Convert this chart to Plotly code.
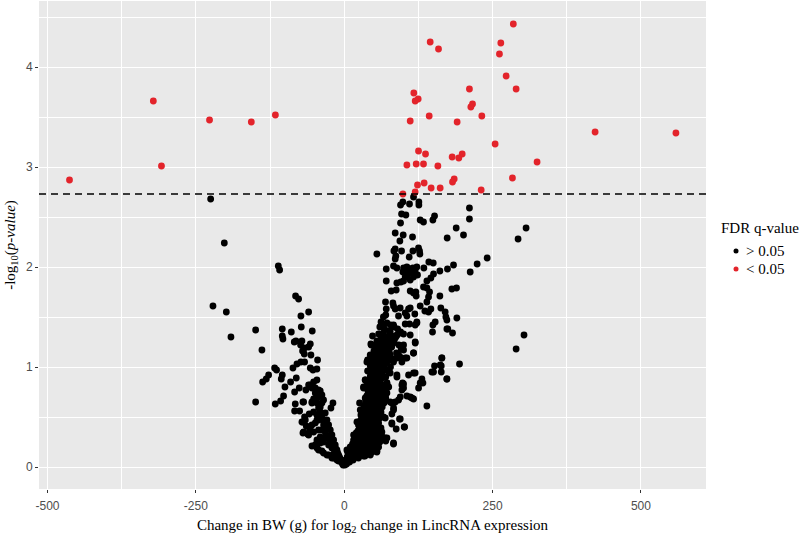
import plotly.graph_objects as go

FDR_LINE = 2.73

# significant lincRNAs (change in BW, -log10 p)
red_points = [
    (285, 4.43), (144.9, 4.25), (158.9, 4.18), (263.9, 4.24), (261.6, 4.13), (272.9, 3.91),
    (289.7, 3.78), (211, 3.78), (117.3, 3.74), (124.6, 3.68), (119.6, 3.66), (216.2, 3.63),
    (213.4, 3.6), (143.2, 3.51), (231.9, 3.51), (111.2, 3.46), (190.3, 3.45), (254.3, 3.23),
    (125.2, 3.16), (137, 3.13), (198.8, 3.13), (181.9, 3.1), (193.1, 3.09), (105.6, 3.02),
    (121.3, 3.03), (133.6, 3.03), (157.8, 3.01), (325, 3.05), (283.5, 2.89), (185.3, 2.88),
    (182.5, 2.85), (134.7, 2.84), (123.5, 2.82), (146.5, 2.79), (161.7, 2.79), (230.8, 2.77),
    (119.6, 2.75), (98.9, 2.73), (-463, 2.87), (-321.7, 3.66), (-308, 3.01), (-227, 3.47),
    (-156.6, 3.45), (-116, 3.52), (422.8, 3.35), (559, 3.34),
]

# negative side
black_left = [
    (-225.1, 2.68), (-202.1, 2.24), (-111.1, 2.01), (-108.9, 1.97), (-82, 1.71), (-76.9, 1.68),
    (-60, 1.55), (-73, 1.51), (-221.2, 1.61), (-198.7, 1.55), (-190.9, 1.3), (-149.3, 1.37),
    (-138.7, 1.17), (-149.3, 0.65), (-104.4, 1.38), (-89.2, 1.35), (-72.4, 1.4), (-53.9, 1.36),
    (-104.4, 1.31), (-103.3, 1.28), (-84.2, 1.25), (-81.4, 1.26), (-71.3, 1.26), (-73.5, 1.22),
    (-57.2, 1.23), (-60, 1.2), (-66.8, 1.19), (-70.2, 1.16), (-67.3, 1.13), (-56.1, 1.12),
    (-44.9, 1.07), (-117.3, 0.99), (-114, 0.97), (-86.4, 0.99), (-79.7, 1.03), (-73, 1.05),
    (-66.8, 1.05), (-57.2, 0.99), (-52.7, 0.97), (-46, 0.98), (-127.4, 0.92), (-131.4, 0.88),
    (-137.5, 0.85), (-104.4, 0.92), (-106.1, 0.88), (-80.8, 0.89), (-90.4, 0.85), (-99.9, 0.8),
    (-75.8, 0.79), (-64.6, 0.77), (-83.6, 0.75), (-102.2, 0.71), (-107.2, 0.66), (-116.2, 0.63),
    (-82.5, 0.63), (-69.6, 0.65), (-83.6, 0.56), (-75.2, 0.56), (-57.2, 0.82), (-51.6, 0.85),
    (-46, 0.87), (-48.8, 0.79), (-43.2, 0.77), (-54.4, 0.65), (-46, 0.69), (-69.6, 0.45),
    (-66.8, 0.5), (-59, 0.53), (-51.6, 0.55), (-46, 0.52), (-64, 0.41), (-57.2, 0.4),
    (-48.8, 0.44), (-43.2, 0.47), (-69.6, 0.34), (-61.7, 0.33), (-51.6, 0.35), (-54.4, 0.21),
    (-46, 0.24), (-46, 0.19), (-40.4, 0.76), (-37.6, 0.72), (-34.8, 0.67), (-19, 0.64),
    (-22.4, 0.59), (-32, 0.54), (-29.1, 0.47), (-26.3, 0.42), (-23.5, 0.37), (-20.7, 0.32),
    (-17.9, 0.27), (-15.1, 0.22), (-12.3, 0.17), (-9.5, 0.12), (-6.7, 0.08), (-3.9, 0.04),
    (-40.4, 0.55), (-37.6, 0.49), (-34.8, 0.42), (-32, 0.35), (-29.1, 0.29), (-24.7, 0.24),
    (-20.7, 0.19), (-16.8, 0.14), (-13.4, 0.1), (-9.5, 0.06), (-48.8, 0.22), (-43.2, 0.17),
    (-34.8, 0.14), (-26.3, 0.12), (-17.9, 0.09), (-46, 0.27), (-40.4, 0.3), (-43.2, 0.37),
    (-68.4, 0.35), (-58.3, 0.37), (-54.4, 0.42), (-65.6, 0.47), (-71.3, 0.45),
    (-46, 0.47), (-34.8, 0.25), (-43.2, 0.59), (-51.6, 0.68), (-54.4, 0.64),
    (-68.4, 0.65), (-40.4, 0.6), (-46, 0.64), (-37.6, 0.64), (-60, 0.82), (-54.4, 0.79),
    (-48.8, 0.74), (-43.2, 0.7), (-2, 0.02), (-5, 0.07), (-8, 0.1), (-11, 0.14), (-14, 0.18),
    (-18, 0.2), (-22, 0.26), (-26, 0.31), (-30, 0.39), (-35, 0.46), (-39, 0.52),
    (-60, 0.32), (-40.4, 0.24), (-37.6, 0.16), (-29.1, 0.12), (-20.7, 0.09), (-12.3, 0.07),
    (-32, 0.3), (-26.3, 0.22), (-37.6, 0.37),
]

# dense stem of the V on the positive side
black_stem = [
    (1, 0.02), (2, 0.04), (4, 0.03), (3, 0.07), (6, 0.06), (9, 0.05), (5, 0.1), (8, 0.09),
    (12, 0.08), (15, 0.07), (7, 0.13), (11, 0.12), (15, 0.11), (19, 0.1), (24, 0.09), (9, 0.16),
    (13, 0.15), (18, 0.14), (23, 0.13), (28, 0.12), (35, 0.11), (11, 0.19), (16, 0.18), (21, 0.17),
    (27, 0.16), (33, 0.15), (40, 0.14), (47, 0.15), (14, 0.23), (19, 0.22), (24, 0.21), (30, 0.2),
    (36, 0.19), (43, 0.18), (50, 0.19), (58, 0.2), (17, 0.27), (22, 0.26), (27, 0.25), (33, 0.24),
    (39, 0.23), (46, 0.22), (53, 0.24), (60, 0.25), (70, 0.26), (20, 0.31), (25, 0.3), (31, 0.29),
    (37, 0.28), (43, 0.27), (50, 0.28), (57, 0.29), (64, 0.3), (23, 0.36), (28, 0.35), (34, 0.34),
    (40, 0.33), (46, 0.32), (52, 0.33), (59, 0.34), (25, 0.41), (31, 0.4), (37, 0.39), (43, 0.38),
    (49, 0.37), (55, 0.38), (62, 0.39), (27, 0.46), (33, 0.45), (39, 0.44), (45, 0.43), (51, 0.42),
    (58, 0.44), (29, 0.51), (35, 0.5), (41, 0.49), (47, 0.48), (53, 0.47), (60, 0.49), (66, 0.5),
    (31, 0.56), (37, 0.55), (43, 0.54), (49, 0.53), (55, 0.52), (62, 0.55), (33, 0.61), (39, 0.6),
    (45, 0.59), (51, 0.58), (57, 0.57), (64, 0.6), (36, 0.66), (42, 0.65), (48, 0.64), (54, 0.63),
    (60, 0.62), (67, 0.64), (38, 0.71), (44, 0.7), (50, 0.69), (56, 0.68), (62, 0.67), (70, 0.69),
    (40, 0.76), (46, 0.75), (52, 0.74), (58, 0.73), (64, 0.72), (72, 0.74), (38, 0.81), (44, 0.8),
    (50, 0.79), (56, 0.78), (62, 0.77), (75, 0.8), (42, 0.86), (48, 0.85), (54, 0.84), (60, 0.83),
    (66, 0.82), (44, 0.91), (50, 0.9), (56, 0.89), (62, 0.88), (70, 0.9), (46, 0.96), (52, 0.95),
    (58, 0.94), (64, 0.93), (72, 0.97), (44, 1.01), (50, 1), (56, 0.99), (62, 0.98), (68, 1.02),
    (78, 1), (47, 1.06), (53, 1.05), (59, 1.04), (65, 1.03), (72, 1.05), (48, 1.11), (54, 1.1),
    (60, 1.09), (66, 1.08), (74, 1.1), (84, 1.08), (50, 1.16), (56, 1.15), (62, 1.14), (68, 1.13),
    (76, 1.15), (88, 1.14), (94, 1.1), (52, 1.21), (58, 1.2), (64, 1.19), (70, 1.18), (80, 1.2),
    (92, 1.22), (55, 1.26), (60, 1.25), (66, 1.24), (72, 1.23), (84, 1.25), (96, 1.18),
    (5.7, 0.15), (10.1, 0.2), (15.8, 0.27), (20.3, 0.34), (24.2, 0.42), (28.1, 0.52), (25.9, 0.64),
    (35.4, 0.69), (32.6, 0.79), (35.4, 0.87), (39.4, 0.96), (38.2, 1.05), (43.8, 1.12), (45.5, 1.22),
    (70, 1.52), (66, 1.5), (62, 1.45), (72, 1.44), (78, 1.42), (60, 1.4), (68, 1.38), (76, 1.36),
    (84, 1.4), (90, 1.38), (58, 1.33), (64, 1.3), (72, 1.3), (80, 1.31), (88, 1.31), (95, 1.35),
    (100, 1.33), (62, 1.28), (70, 1.27), (78, 1.28), (86, 1.29),
    (63.5, 1.42), (83.1, 1.42), (77.5, 1.35), (88.8, 1.32), (94.4, 1.34), (66.3, 1.34), (60.7, 1.25),
    (97, 1.2), (57.9, 1.17), (100, 1.17), (77.5, 1.12), (91.6, 1.12), (105.6, 1.09), (69.1, 1.05),
    (83.1, 1.05), (97.2, 1.05), (74.7, 0.95), (88.8, 0.92), (97.2, 0.82), (72, 0.84), (52.3, 0.99),
    (35.4, 0.87), (32.6, 0.8), (35.4, 0.8), (72, 0.82), (94.4, 0.7), (86, 0.65), (83.1, 0.57),
    (80.3, 0.53), (69.1, 0.49), (93.2, 0.48), (80.3, 0.43), (69.1, 0.29), (61.8, 0.3), (55.1, 0.16),
    (52.3, 0.22), (32.6, 0.11), (63.5, 0.35), (60.7, 0.54), (63.5, 0.67), (69.1, 0.72), (77.5, 0.65),
    (52.3, 0.74), (15.8, 0.32), (21.4, 0.45), (27, 0.57), (4.5, 0.17),
]

# sparser upper and right part
black_right = [
    (98.8, 2.65), (116.8, 2.7), (94.9, 2.62), (110, 2.63), (125.8, 2.65), (125.8, 2.62), (211, 2.59),
    (211, 2.48), (96.6, 2.53), (103.9, 2.52), (94.9, 2.44), (152.2, 2.51), (149.4, 2.47), (128, 2.47),
    (133.6, 2.45), (85.9, 2.34), (99.4, 2.32), (115.1, 2.3), (93.8, 2.26), (188.7, 2.39), (201, 2.32),
    (173.5, 2.29), (240.9, 2.09), (224, 2.03), (212.3, 1.95), (184.2, 2.02), (174, 1.98), (161.2, 1.96),
    (55, 2.13), (85.9, 2.18), (83.7, 2.16), (96.6, 2.16), (115.7, 2.16), (125.2, 2.19), (126.9, 2.16),
    (127.5, 2.13), (109.5, 2.1), (87, 2.11), (85.9, 2.08), (142.6, 2.05), (150, 2.04), (134.2, 1.99),
    (70.8, 1.98), (83.1, 2.01), (88.7, 1.99), (100, 1.99), (105.6, 2), (98.8, 1.95), (104.4, 1.96),
    (110, 1.98), (115.7, 1.99), (122.4, 2), (119.6, 1.96), (112.3, 1.94), (106.7, 1.92), (102.8, 1.9),
    (123.5, 1.92), (116.8, 1.9), (111.2, 1.87), (100, 1.86), (95.5, 1.85), (88.7, 1.84), (70.8, 1.86),
    (150.5, 1.93), (146, 1.89), (139.3, 1.86), (133.6, 1.8), (139.3, 1.79), (143.8, 1.75), (142.1, 1.7),
    (139.3, 1.65), (161.2, 1.71), (181.4, 1.78), (189.2, 1.79), (79.2, 1.76), (87.6, 1.77), (111.2, 1.76),
    (116.8, 1.74), (120.7, 1.75), (121.3, 1.71), (69.6, 1.65), (82, 1.64), (83.1, 1.61), (70.8, 1.58),
    (85.9, 1.58), (94.3, 1.59), (108.4, 1.58), (111.2, 1.59), (102.8, 1.54), (105.6, 1.51), (91.5, 1.51),
    (119, 1.53), (128, 1.61), (135.9, 1.56), (146, 1.58), (142.1, 1.55), (162.8, 1.59), (170.1, 1.55),
    (171.3, 1.5), (173, 1.47), (189.8, 1.49), (153.3, 1.45), (149.4, 1.42), (148.8, 1.35), (174.6, 1.38),
    (182.5, 1.34), (122.4, 1.45), (119.6, 1.42), (110, 1.43), (102.8, 1.43), (111.2, 1.32), (119.6, 1.25),
    (116.8, 1.14), (164.5, 1.09), (47.7, 1.31), (44.9, 1.23), (39.3, 1.07),
    (101.7, 0.4), (87.6, 0.38), (80.3, 0.44), (94.4, 0.48), (139.3, 0.61), (83.2, 0.59), (111.2, 0.7),
    (116.9, 0.68), (105.6, 0.71), (125.3, 0.79), (132.6, 0.84), (130.9, 0.88), (173, 0.88), (147.7, 0.95),
    (163.5, 0.95), (152.2, 1.01), (163.5, 1.01), (164.6, 1.09), (194.3, 1.03), (116.9, 0.94), (108.4, 0.92),
    (98.3, 0.84), (100, 0.79), (91.6, 0.67), (80.3, 0.64), (71.9, 0.84), (69.1, 0.77), (77.5, 0.94),
    (88.8, 0.9), (116.9, 1.14), (102.8, 1.09), (88.8, 1.09), (77.5, 1.07), (69.1, 1.04), (100, 1.22),
    (119.7, 1.24), (74.7, 1.22), (83.2, 1.24), (83, 0.23), (55, 0.15), (44, 0.12), (66, 0.29), (72, 0.29),
    (306.5, 2.39), (293, 2.28), (303, 1.32), (289.7, 1.18),
    (173, 1.38), (128, 0.84), (161.8, 1.02), (173, 0.88), (150.5, 0.95), (122.4, 1.44), (119.6, 0.94),
    (100, 0.83), (97.2, 0.77), (114, 0.69), (101.1, 0.4), (83.1, 0.24),
]

x_ticks = [-500, -250, 0, 250, 500]
x_labels = ["-500", "-250", "0", "250", "500"]
y_ticks = [0, 1, 2, 3, 4]

black_points = black_left + black_stem + black_right

BLACK = "black"
RED = "#e3242b"
SERIF = "Liberation Serif"

fig = go.Figure()
fig.add_trace(go.Scatter(x=[p[0] for p in black_points], y=[p[1] for p in black_points],
                         mode="markers", name="> 0.05",
                         marker=dict(color=BLACK, size=6.8)))
fig.add_trace(go.Scatter(x=[p[0] for p in red_points], y=[p[1] for p in red_points],
                         mode="markers", name="< 0.05",
                         marker=dict(color=RED, size=6.8)))
fig.add_hline(y=FDR_LINE, line_color="black", line_width=1.5, line_dash="7px,5px")

fig.update_xaxes(title_text="Change in BW (g) for log<sub>2</sub> change in LincRNA expression",
                 title_font=dict(family=SERIF, size=15, color="black"), title_standoff=8,
                 range=[-514.4, 609.7], tickvals=x_ticks, ticktext=x_labels,
                 tickfont=dict(family="Liberation Sans", size=12, color="#4d4d4d"),
                 ticks="outside", ticklen=3, tickcolor="#333333", tickwidth=1, ticklabelstandoff=3,
                 showgrid=True, gridcolor="white", gridwidth=1.3, zeroline=False,
                 minor=dict(tickvals=[-375, -125, 125, 375], showgrid=True, gridcolor="white", gridwidth=0.6))
fig.update_yaxes(title_text="-log<sub>10</sub>(<i>p-value</i>)",
                 title_font=dict(family=SERIF, size=15, color="black"), title_standoff=6,
                 range=[-0.22, 4.66], tickvals=y_ticks,
                 tickfont=dict(family="Liberation Sans", size=12, color="#4d4d4d"),
                 ticks="outside", ticklen=3, tickcolor="#333333", tickwidth=1,
                 showgrid=True, gridcolor="white", gridwidth=1.3, zeroline=False,
                 minor=dict(tickvals=[0.5, 1.5, 2.5, 3.5, 4.5], showgrid=True, gridcolor="white", gridwidth=0.6))

# legend drawn by hand: plotly's rows are taller than the reference's and its dots bigger
fig.add_annotation(text="FDR q-value", xref="paper", yref="paper", x=1.02, y=0.535, xanchor="left",
                   yanchor="middle", showarrow=False, font=dict(family=SERIF, size=15, color="black"))
for label, color, row_y in [("> 0.05", BLACK, 0.4877), ("< 0.05", RED, 0.4508)]:
    fig.add_annotation(text=label, xref="paper", yref="paper", x=1.057, y=row_y, xanchor="left",
                       yanchor="middle", showarrow=False, font=dict(family=SERIF, size=15, color="black"))
    fig.add_shape(type="circle", xref="paper", yref="paper", xsizemode="pixel", ysizemode="pixel",
                  xanchor=1.045, yanchor=row_y, x0=-2.5, x1=2.5, y0=-2.5, y1=2.5,
                  fillcolor=color, line_width=0)

fig.update_layout(width=800, height=535, plot_bgcolor="#e9e9e9", paper_bgcolor="white",
                  showlegend=False, margin=dict(l=38.6, r=94, t=1, b=46, autoexpand=False))

# page margin would otherwise push the 800px figure off the window
fig.write_html("out.html", config=dict(displayModeBar=False),
               post_script="document.body.style.margin='0';")
